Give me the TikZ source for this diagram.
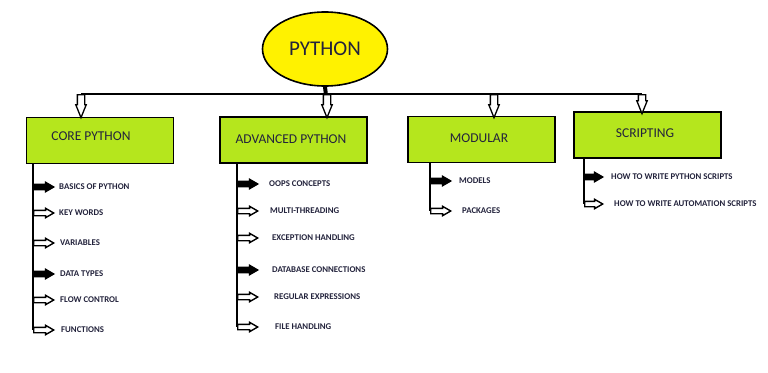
\documentclass[tikz,border=0pt]{standalone}
\usepackage{fontspec}
\setmainfont{Carlito}
\usetikzlibrary{shapes.geometric,shapes.arrows,positioning}
\definecolor{limebox}{RGB}{181,230,29}
\definecolor{pyyellow}{RGB}{255,242,0}
\definecolor{inktext}{RGB}{35,35,60}
\tikzset{
  rootnode/.style={ellipse, draw, line width=1.6pt, fill=pyyellow, minimum width=125pt, minimum height=74pt, inner sep=0pt, text=inktext, font=\fontsize{21}{25}\selectfont},
  branchbox/.style={rectangle, draw, line width=1.8pt, fill=limebox, minimum width=147pt, minimum height=46pt},
  branchtitle/.style={text=inktext, font=\fontsize{13.5}{16}\selectfont, inner sep=0pt},
  leaf/.style={anchor=west, text=inktext, font=\bfseries\fontsize{8.8}{10}\selectfont, inner sep=0pt},
  hollowarrow/.style={single arrow, draw, line width=1.4pt, fill=white, inner xsep=0pt, inner ysep=2pt, single arrow head extend=2pt, single arrow tip angle=60, minimum height=20pt, anchor=tail},
  solidarrow/.style={hollowarrow, fill=black},
  droparrow/.style={hollowarrow, rotate=-90, line width=1.3pt, inner ysep=3pt, single arrow head extend=1.6pt, single arrow tip angle=44, minimum height=23pt},
  spine/.style={line width=1.8pt},
}
\begin{document}
\begin{tikzpicture}[x=1pt, y=-1pt]
\useasboundingbox (0,0) rectangle (768,372);
\node[rootnode] (py) at (325,49) {PYTHON};
\coordinate (busL) at (81,94);
\coordinate (busR) at (642,94);
\draw[spine] (busL) -- (busR);
\draw[line width=4pt] (py.south) -- (327,104);

\node[branchbox] (core) at (100,140.5) {};
\node[branchbox] (adv) at (293.5,140) {};
\node[branchbox] (mod) at (481.5,139.5) {};
\node[branchbox] (scr) at (647.5,135) {};
\node[branchtitle] (coreT) at (91,136) {CORE PYTHON};
\node[branchtitle] (advT) at (291,139) {ADVANCED PYTHON};
\node[branchtitle] (modT) at (479,138) {MODULAR};
\node[branchtitle] (scrT) at (645,133) {SCRIPTING};

\node[droparrow] (dcore) at (81,94) {};
\node[droparrow] (dadv) at (327,94) {};
\node[droparrow] (dmod) at (494,94) {};
\node[droparrow, minimum height=19pt] (dscr) at (642,94) {};

\node[solidarrow] (c1) at (33,187) {};
\node[hollowarrow] (c2) at (33,213) {};
\node[hollowarrow] (c3) at (33,243) {};
\node[solidarrow] (c4) at (33,274) {};
\node[hollowarrow] (c5) at (33,300) {};
\node[hollowarrow] (c6) at (33,330) {};
\draw[spine] (core.south -| c6.tail) -- (c6.tail);
\node[leaf] (basics) at (59,187) {BASICS OF PYTHON};
\node[leaf] (keywords) at (59,213) {KEY WORDS};
\node[leaf] (variables) at (60,243) {VARIABLES};
\node[leaf] (datatypes) at (60,274) {DATA TYPES};
\node[leaf] (flow) at (60,300) {FLOW CONTROL};
\node[leaf] (functions) at (61,330) {FUNCTIONS};

\node[solidarrow] (a1) at (237,184) {};
\node[hollowarrow] (a2) at (237,211) {};
\node[hollowarrow] (a3) at (237,238) {};
\node[solidarrow] (a4) at (237,270) {};
\node[hollowarrow] (a5) at (237,297) {};
\node[hollowarrow] (a6) at (237,327) {};
\draw[spine] (adv.south -| a6.tail) -- (a6.tail);
\node[leaf] (oops) at (269,184) {OOPS CONCEPTS};
\node[leaf] (threads) at (270,211) {MULTI-THREADING};
\node[leaf] (exceptions) at (272,238) {EXCEPTION HANDLING};
\node[leaf] (database) at (272,270) {DATABASE CONNECTIONS};
\node[leaf] (regex) at (274,297) {REGULAR EXPRESSIONS};
\node[leaf] (files) at (275,327) {FILE HANDLING};

\node[solidarrow] (m1) at (430,181) {};
\node[hollowarrow] (m2) at (430,211) {};
\draw[spine] (mod.south -| m2.tail) -- (m2.tail);
\node[leaf] (models) at (459,181) {MODELS};
\node[leaf] (packages) at (462,211) {PACKAGES};

\node[solidarrow, minimum height=18pt] (s1) at (584,177) {};
\node[hollowarrow, minimum height=18pt] (s2) at (584,204) {};
\draw[spine] (scr.south -| s2.tail) -- (s2.tail);
\node[leaf] (pyscripts) at (611,177) {HOW TO WRITE PYTHON SCRIPTS};
\node[leaf] (autoscripts) at (614,204) {HOW TO WRITE AUTOMATION SCRIPTS};
\end{tikzpicture}
\end{document}
